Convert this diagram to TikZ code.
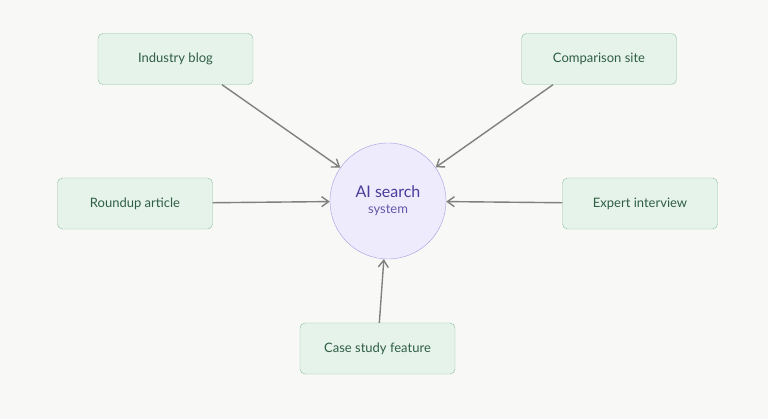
\documentclass[tikz,border=0pt]{standalone}
\usepackage{fontspec}
\setmainfont{Lato}
\usetikzlibrary{positioning,arrows.meta}
\definecolor{bgColor}{HTML}{F8F8F6}
\definecolor{boxFill}{HTML}{E6F3EA}
\definecolor{boxLine}{HTML}{8FC0A0}
\definecolor{boxText}{HTML}{2F5E43}
\definecolor{hubFill}{HTML}{EEEBFC}
\definecolor{hubLine}{HTML}{A59BE0}
\definecolor{hubText}{HTML}{4A3C9A}
\definecolor{arrowColor}{HTML}{808080}
\tikzset{
  source/.style={draw=boxLine, fill=boxFill, rounded corners=5pt, minimum width=155pt, minimum height=51pt, text=boxText, font=\fontsize{13}{15}\selectfont},
  hub/.style={circle, draw=hubLine, fill=hubFill, minimum size=116pt, inner sep=0pt, align=center},
  link/.style={-{Straight Barb[length=7pt,width=10pt]}, draw=arrowColor, line width=1.4pt}
}
\begin{document}
\begin{tikzpicture}[x=1pt,y=-1pt]
\fill[bgColor] (0,0) rectangle (768,419);
\useasboundingbox (0,0) rectangle (768,419);
\node[hub] (ai) at (388,201) {{\color{hubText}\fontsize{16}{18}\selectfont AI search}\\[4pt]{\color{hubText!85}\fontsize{13}{15}\selectfont system}};
\node[source] (blog) at (175.5,59) {Industry blog};
\node[source] (comp) at (599,59) {Comparison site};
\node[source] (round) at (135,203.5) {Roundup article};
\node[source] (expert) at (640,203.5) {Expert interview};
\node[source] (case) at (377.5,348.5) {Case study feature};
\draw[link] ([xshift=46.5pt]blog.south) -- (ai);
\draw[link] ([xshift=-46pt]comp.south) -- (ai);
\draw[link] (round) -- (ai);
\draw[link] (expert) -- (ai);
\draw[link] (case) -- (ai);
\end{tikzpicture}
\end{document}
